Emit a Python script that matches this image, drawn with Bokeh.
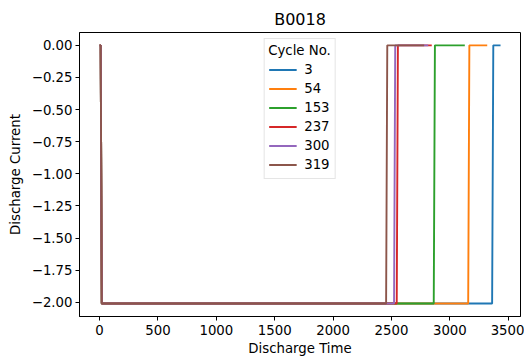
from bokeh.plotting import figure
from bokeh.models import Range1d, FixedTicker
from bokeh.embed import file_html
from bokeh.resources import INLINE

# ---- data ----
cycles = ["3", "54", "153", "237", "300", "319"]
colors = ["#1f77b4", "#ff7f0e", "#2ca02c", "#d62728", "#9467bd", "#8c564b"]

time_c3 = [0, 9.4, 18.8, 3362, 3372, 3434]
curr_c3 = [0.0, 0.0, -2.01, -2.01, 0.0, 0.0]
time_c54 = [0, 9.4, 18.8, 3157, 3167, 3320]
curr_c54 = [0.0, 0.0, -2.01, -2.01, 0.0, 0.0]
time_c153 = [0, 9.4, 18.8, 2862, 2872, 3128]
curr_c153 = [0.0, 0.0, -2.01, -2.01, 0.0, 0.0]
time_c237 = [0, 9.4, 18.8, 2545, 2555, 2845]
curr_c237 = [0.0, 0.0, -2.01, -2.01, 0.0, 0.0]
time_c300 = [0, 9.4, 18.8, 2522, 2532, 2815]
curr_c300 = [0.0, 0.0, -2.01, -2.01, 0.0, 0.0]
time_c319 = [0, 9.4, 18.8, 2454, 2464, 2780]
curr_c319 = [0.0, 0.0, -2.01, -2.01, 0.0, 0.0]

x_ticks = [0, 500, 1000, 1500, 2000, 2500, 3000, 3500]
y_ticks = [0.0, -0.25, -0.5, -0.75, -1.0, -1.25, -1.5, -1.75, -2.0]
y_tick_labels = ["0.00", "\u22120.25", "\u22120.50", "\u22120.75", "\u22121.00",
                 "\u22121.25", "\u22121.50", "\u22121.75", "\u22122.00"]

series_t = [time_c3, time_c54, time_c153, time_c237, time_c300, time_c319]
series_i = [curr_c3, curr_c54, curr_c153, curr_c237, curr_c300, curr_c319]

FONT = "DejaVu Sans"
FS = "13.3px"

p = figure(width=524, height=358, output_backend="svg", toolbar_location=None,
           x_range=Range1d(-172, 3605), y_range=Range1d(-2.111, 0.1),
           title="B0018", min_border_left=79, min_border_right=4,
           min_border_top=32, min_border_bottom=41)

p.title.align = "center"
p.title.text_font = FONT
p.title.text_font_size = "16px"
p.title.text_font_style = "normal"
p.title.text_color = "black"
p.title.standoff = 8

p.xgrid.visible = False
p.ygrid.visible = False
p.outline_line_color = "black"
p.outline_line_width = 1
p.background_fill_color = "white"
p.border_fill_color = "white"

for t, i, lab, col in zip(series_t, series_i, cycles, colors):
    p.line(t, i, line_color=col, line_width=1.9, legend_label=lab)

for ax in (p.xaxis[0], p.yaxis[0]):
    ax.axis_line_color = "black"
    ax.major_tick_line_color = "black"
    ax.major_tick_out = 4
    ax.major_tick_in = 0
    ax.minor_tick_line_color = None
    ax.major_label_text_font = FONT
    ax.major_label_text_font_size = FS
    ax.major_label_text_color = "black"
    ax.axis_label_text_font = FONT
    ax.axis_label_text_font_size = FS
    ax.axis_label_text_font_style = "normal"
    ax.axis_label_text_color = "black"
    ax.major_label_standoff = 3

p.xaxis[0].ticker = FixedTicker(ticks=x_ticks)
p.xaxis[0].axis_label = "Discharge Time"
p.xaxis[0].axis_label_standoff = 3
p.xaxis[0].major_label_standoff = 4
p.yaxis[0].ticker = FixedTicker(ticks=y_ticks)
p.yaxis[0].major_label_overrides = {v: s for v, s in zip(y_ticks, y_tick_labels)}
p.yaxis[0].axis_label = "Discharge Current"
p.yaxis[0].axis_label_standoff = 6

lg = p.legend[0]
lg.title = "Cycle No."
lg.title_text_font = FONT
lg.title_text_font_size = FS
lg.title_text_font_style = "normal"
lg.title_text_color = "black"
lg.title_standoff = 2
lg.location = "top_center"
lg.margin = 6
lg.padding = 4
lg.spacing = 0
lg.glyph_width = 28
lg.glyph_height = 19
lg.label_height = 19
lg.label_standoff = 8
lg.label_text_font = FONT
lg.label_text_font_size = FS
lg.label_text_color = "black"
lg.border_line_color = "#cccccc"
lg.background_fill_alpha = 0.8

open("out.html", "w").write(file_html(p, INLINE))
